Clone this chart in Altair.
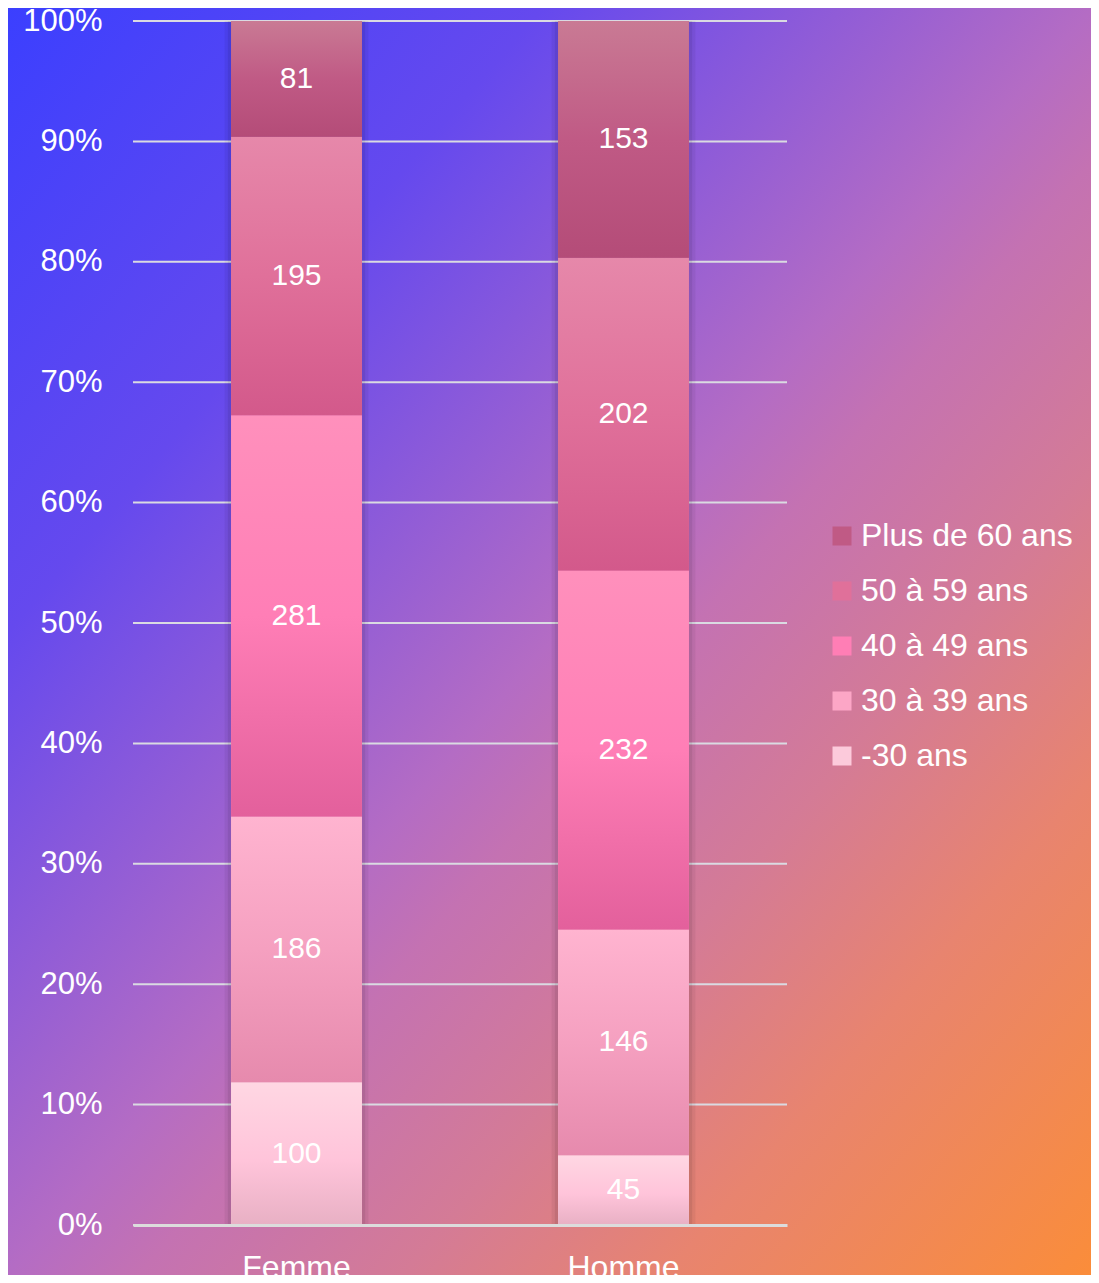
import altair as alt
import pandas as pd

sexes = ["Femme", "Homme"]
ages = ["-30 ans", "30 à 39 ans", "40 à 49 ans", "50 à 59 ans", "Plus de 60 ans"]
femme = [100, 186, 281, 195, 81]
homme = [45, 146, 232, 202, 153]
grid_ticks = [0.0, 0.1, 0.2, 0.3, 0.4, 0.5, 0.6, 0.7, 0.8, 0.9, 1.0]

legend_colors = ["#fccadb", "#fca6c6", "#ff7eb5", "#e0709a", "#c05a85"]
seg_gradients = [
    [("#ffd7e3", 0), ("#ffc4da", 0.55), ("#e8b0c4", 1)],
    [("#ffb4d0", 0), ("#f5a0c0", 0.5), ("#e68aad", 1)],
    [("#ff90bc", 0), ("#ff7eb6", 0.5), ("#e3609c", 1)],
    [("#e688aa", 0), ("#e0709a", 0.5), ("#d3598b", 1)],
    [("#c97a94", 0), ("#c05a85", 0.5), ("#b44c78", 1)],
]
bg_stops = [("#3a3fff", 0), ("#6549ee", 0.25), ("#b46cc4", 0.5), ("#c472b2", 0.56),
            ("#d47b96", 0.68), ("#e8846f", 0.8), ("#fb8d38", 1)]

rows = []
for s, vals in zip(sexes, [femme, homme]):
    for r, (a, v) in enumerate(zip(ages, vals)):
        rows.append({"sexe": s, "age": a, "rank": r, "n": v})
df = pd.DataFrame(rows)

W, H = 654, 1204
FONT = "Liberation Sans"


def grad(stops, x2=0, y2=1):
    return alt.LinearGradient(
        gradient="linear",
        stops=[alt.GradientStop(color=c, offset=o) for c, o in stops],
        x1=0, y1=0, x2=x2, y2=y2,
    )


y_axis = alt.Axis(title=None, format=".0%", values=grid_ticks, grid=False, ticks=False,
                  tickSize=0, domain=False, labelFontSize=31, labelColor="white",
                  labelFont=FONT, labelPadding=31, zindex=1)
y_scale = alt.Scale(domain=[0, 1], nice=False)
x_enc = alt.X("sexe:N", scale=alt.Scale(domain=sexes, paddingInner=0.6, paddingOuter=0.3),
              axis=alt.Axis(title=None, labelAngle=0, labelFontSize=32, labelColor="white",
                            labelFont=FONT, labelPadding=27, ticks=False, tickSize=0,
                            domainColor="#dcdcdc", domainWidth=3, zindex=1))

bg = alt.Chart(pd.DataFrame({"k": [0]})).mark_rect(color=grad(bg_stops, 1, 1)).encode(
    x=alt.value(-133), x2=alt.value(966), y=alt.value(-21), y2=alt.value(1262)
)

grid = alt.Chart(pd.DataFrame({"v": grid_ticks})).mark_rule(color="#dadae2", strokeWidth=2).encode(
    y=alt.Y("v:Q", scale=y_scale, axis=y_axis)
)

base = alt.Chart(df).transform_stack(
    stack="n", groupby=["sexe"], as_=["y0", "y1"], offset="normalize",
    sort=[alt.SortField("rank", order="ascending")],
).transform_calculate(mid="(datum.y0 + datum.y1) / 2")

shadow1 = base.transform_filter("datum.rank == 0").mark_bar(
    width=alt.RelativeBandSize(1.1), color="black", opacity=0.05
).encode(x=x_enc, y=alt.Y(datum=1, scale=y_scale, axis=y_axis), y2=alt.Y2(datum=0))
shadow2 = base.transform_filter("datum.rank == 0").mark_bar(
    width=alt.RelativeBandSize(1.05), color="black", opacity=0.07
).encode(x=x_enc, y=alt.Y(datum=1, scale=y_scale, axis=y_axis), y2=alt.Y2(datum=0))

legend_bars = base.mark_bar().encode(
    x=x_enc,
    y=alt.Y("y0:Q", scale=y_scale, axis=y_axis),
    y2="y1:Q",
    color=alt.Color(
        "age:N",
        scale=alt.Scale(domain=ages[::-1], range=legend_colors[::-1]),
        legend=alt.Legend(title=None, orient="none", legendX=693, legendY=499,
                          labelFontSize=32, labelColor="white", labelFont=FONT,
                          labelLimit=0, symbolType="square", symbolSize=361,
                          symbolStrokeWidth=0, symbolOpacity=1, rowPadding=23,
                          labelOffset=3, padding=0),
    ),
)

seg_layers = []
for r, stops in enumerate(seg_gradients):
    seg_layers.append(
        base.transform_filter(f"datum.rank == {r}").mark_bar(color=grad(stops)).encode(
            x=x_enc, y=alt.Y("y0:Q", scale=y_scale, axis=y_axis), y2="y1:Q"
        )
    )

labels = base.mark_text(color="white", fontSize=30, font=FONT, baseline="middle").encode(
    x=x_enc, y=alt.Y("mid:Q", scale=y_scale, axis=y_axis), text="n:Q"
)

chart = alt.layer(bg, grid, shadow1, shadow2, legend_bars, *seg_layers, labels).properties(
    width=W, height=H,
    autosize=alt.AutoSizeParams(type="none"),
    padding={"left": 125, "top": 13, "right": 304, "bottom": 50},
).configure_view(stroke=None).configure(background="#b46cc4")

chart.save("out.html", embed_options={"renderer": "svg", "actions": False})
